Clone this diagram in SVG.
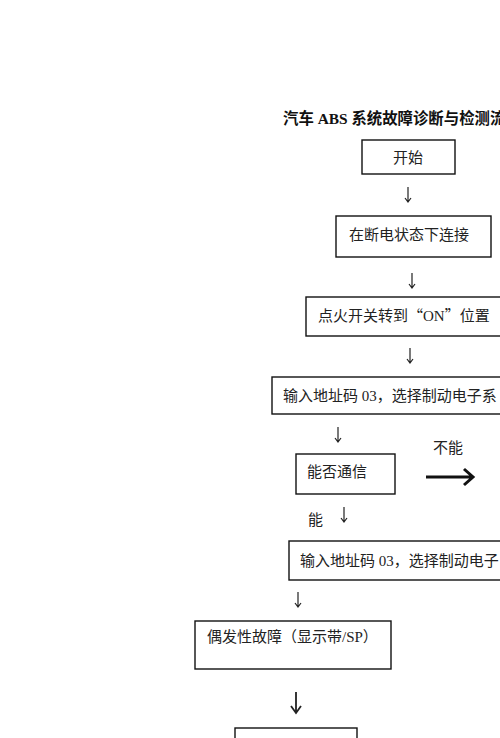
<svg xmlns="http://www.w3.org/2000/svg" width="500" height="738" viewBox="0 0 500 738">
<style>
.t{font-family:"Liberation Serif","Noto Sans CJK SC",serif;font-size:15px;fill:#222}
.q{font-family:"Noto Sans CJK SC",sans-serif}
.title{font-family:"Liberation Serif","Noto Sans CJK SC",serif;font-size:15.4px;font-weight:bold;fill:#111}
.box{fill:#fff;stroke:#111;stroke-width:1.4}
.ar{fill:none;stroke:#222;stroke-width:1.2}
.arb{fill:none;stroke:#111;stroke-width:3}
</style>
<rect width="500" height="738" fill="#fff"/>
<text class="title" x="283" y="124">汽车 ABS 系统故障诊断与检测流</text>
<g id="n1"><rect class="box" x="362" y="140" width="93" height="34"/><text class="t" x="408" y="163" text-anchor="middle">开始</text></g>
<g id="n2"><rect class="box" x="336" y="216" width="155" height="41"/><text class="t" x="349" y="240">在断电状态下连接</text></g>
<g id="n3"><rect class="box" x="306" y="297" width="200" height="39"/><text class="t" x="318" y="321">点火开关转到<tspan class="q">“</tspan>ON<tspan class="q">”</tspan>位置</text></g>
<g id="n4"><rect class="box" x="272" y="377" width="240" height="37"/><text class="t" x="283" y="401">输入地址码 03，选择制动电子系</text></g>
<g id="n5"><rect class="box" x="296" y="454" width="99" height="40"/><text class="t" x="307" y="477">能否通信</text></g>
<g id="n6"><rect class="box" x="289" y="541" width="240" height="39"/><text class="t" x="300" y="566">输入地址码 03，选择制动电子</text></g>
<g id="n7"><rect class="box" x="195" y="621" width="196" height="48"/><text class="t" x="207" y="642">偶发性故障（显示带/SP）</text></g>
<g id="n8"><rect class="box" x="235" y="728" width="122" height="20"/></g>
<g id="labels">
<text class="t" x="433" y="453">不能</text>
<text class="t" x="308" y="525">能</text>
</g>
<g id="connectors">
<path class="ar" d="M408 187V202M405 198L408 202L411 198"/>
<path class="ar" d="M412 273V288M409 284L412 288L415 284"/>
<path class="ar" d="M410 348V363M407 359L410 363L413 359"/>
<path class="ar" d="M338 427V442M335 438L338 442L341 438"/>
<path class="ar" d="M344 507V522M341 518L344 522L347 518"/>
<path class="ar" d="M298 592V607M295 603L298 607L301 603"/>
<path class="arb" d="M426 477H473M464 469L473 477L464 485"/>
<path class="ar" d="M296 692V713M291 706L296 713L301 706" style="stroke-width:1.8"/>
</g>
</svg>
